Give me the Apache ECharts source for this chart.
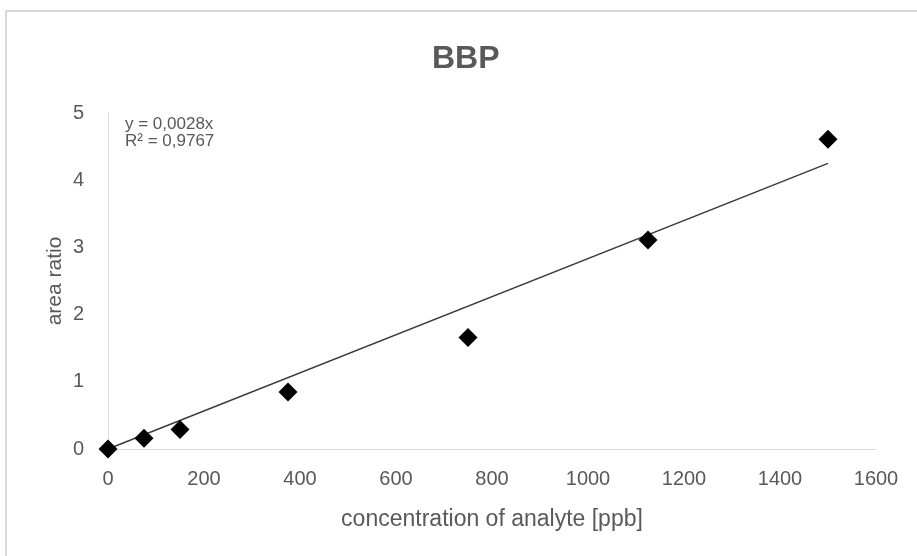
<!DOCTYPE html>
<html>
<head>
<meta charset="utf-8">
<title>BBP calibration</title>
<script src="https://cdn.jsdelivr.net/npm/echarts@6/dist/echarts.min.js"></script>
<style>
  html, body { margin: 0; padding: 0; background: #ffffff; }
  #chart { width: 917px; height: 556px; }
</style>
</head>
<body>
<div id="chart"></div>
<script>
// Calibration standards for BBP: concentration (ppb) vs. measured area ratio
const concentrations = [0, 75, 150, 375, 750, 1125, 1500];
const areaRatios = [0, 0.16, 0.29, 0.85, 1.66, 3.11, 4.61];
const xTicks = [0, 200, 400, 600, 800, 1000, 1200, 1400, 1600];
const yTicks = [0, 1, 2, 3, 4, 5];
const rSquaredText = '0,9767';

// Least-squares slope of a line forced through the origin
let sxy = 0, sxx = 0;
concentrations.forEach((c, i) => { sxy += c * areaRatios[i]; sxx += c * c; });
const slope = sxy / sxx;
const xMaxData = Math.max(...concentrations);
const trendPoints = [[0, 0], [xMaxData, slope * xMaxData]];
const slopeText = slope.toFixed(4).replace('.', ',');

const textColor = '#595959';
const fontFamily = 'Liberation Sans, Arial, sans-serif';

const chart = echarts.init(document.getElementById('chart'), null, { renderer: 'canvas' });
chart.setOption({
  backgroundColor: '#ffffff',
  animation: false,
  title: {
    text: 'BBP',
    left: 427,
    top: 38,
    textStyle: { fontFamily, fontSize: 32, fontWeight: 'bold', color: textColor }
  },
  graphic: [
    {
      type: 'rect',
      shape: { x: 6, y: 11, width: 1000, height: 700 },
      style: { fill: 'none', stroke: '#d9d9d9', lineWidth: 2 },
      silent: true
    },
    {
      type: 'text',
      left: 125,
      top: 116,
      style: {
        text: 'y = ' + slopeText + 'x\nR² = ' + rSquaredText,
        fontFamily, fontSize: 17, lineHeight: 17, fill: textColor
      }
    }
  ],
  grid: { left: 108, right: 41, top: 113, bottom: 107, containLabel: false },
  xAxis: {
    type: 'value',
    min: xTicks[0],
    max: xTicks[xTicks.length - 1],
    interval: xTicks[1] - xTicks[0],
    name: 'concentration of analyte [ppb]',
    nameLocation: 'middle',
    nameGap: 59,
    nameMoveOverlap: false,
    nameTextStyle: { fontFamily, fontSize: 23, color: textColor },
    axisLine: { show: true, lineStyle: { color: '#d9d9d9', width: 1 } },
    axisTick: { show: false },
    splitLine: { show: false },
    axisLabel: {
      fontFamily, fontSize: 20, color: textColor, margin: 20,
      formatter: (v) => String(v)
    }
  },
  yAxis: {
    type: 'value',
    min: yTicks[0],
    max: yTicks[yTicks.length - 1],
    interval: yTicks[1] - yTicks[0],
    name: 'area ratio',
    nameLocation: 'middle',
    nameGap: 42,
    nameMoveOverlap: false,
    nameTextStyle: { fontFamily, fontSize: 21, color: textColor },
    axisLine: { show: true, lineStyle: { color: '#d9d9d9', width: 1 } },
    axisTick: { show: false },
    splitLine: { show: false },
    axisLabel: {
      fontFamily, fontSize: 20, color: textColor, margin: 24,
      formatter: (v) => String(v)
    }
  },
  series: [
    {
      name: 'trend',
      type: 'line',
      data: trendPoints,
      symbol: 'none',
      lineStyle: { color: '#3a3a3a', width: 1.4 },
      z: 2
    },
    {
      name: 'BBP',
      type: 'scatter',
      data: concentrations.map((c, i) => [c, areaRatios[i]]),
      symbol: 'diamond',
      symbolSize: 19,
      itemStyle: { color: '#000000', opacity: 1 },
      z: 3
    }
  ]
});
</script>
</body>
</html>
